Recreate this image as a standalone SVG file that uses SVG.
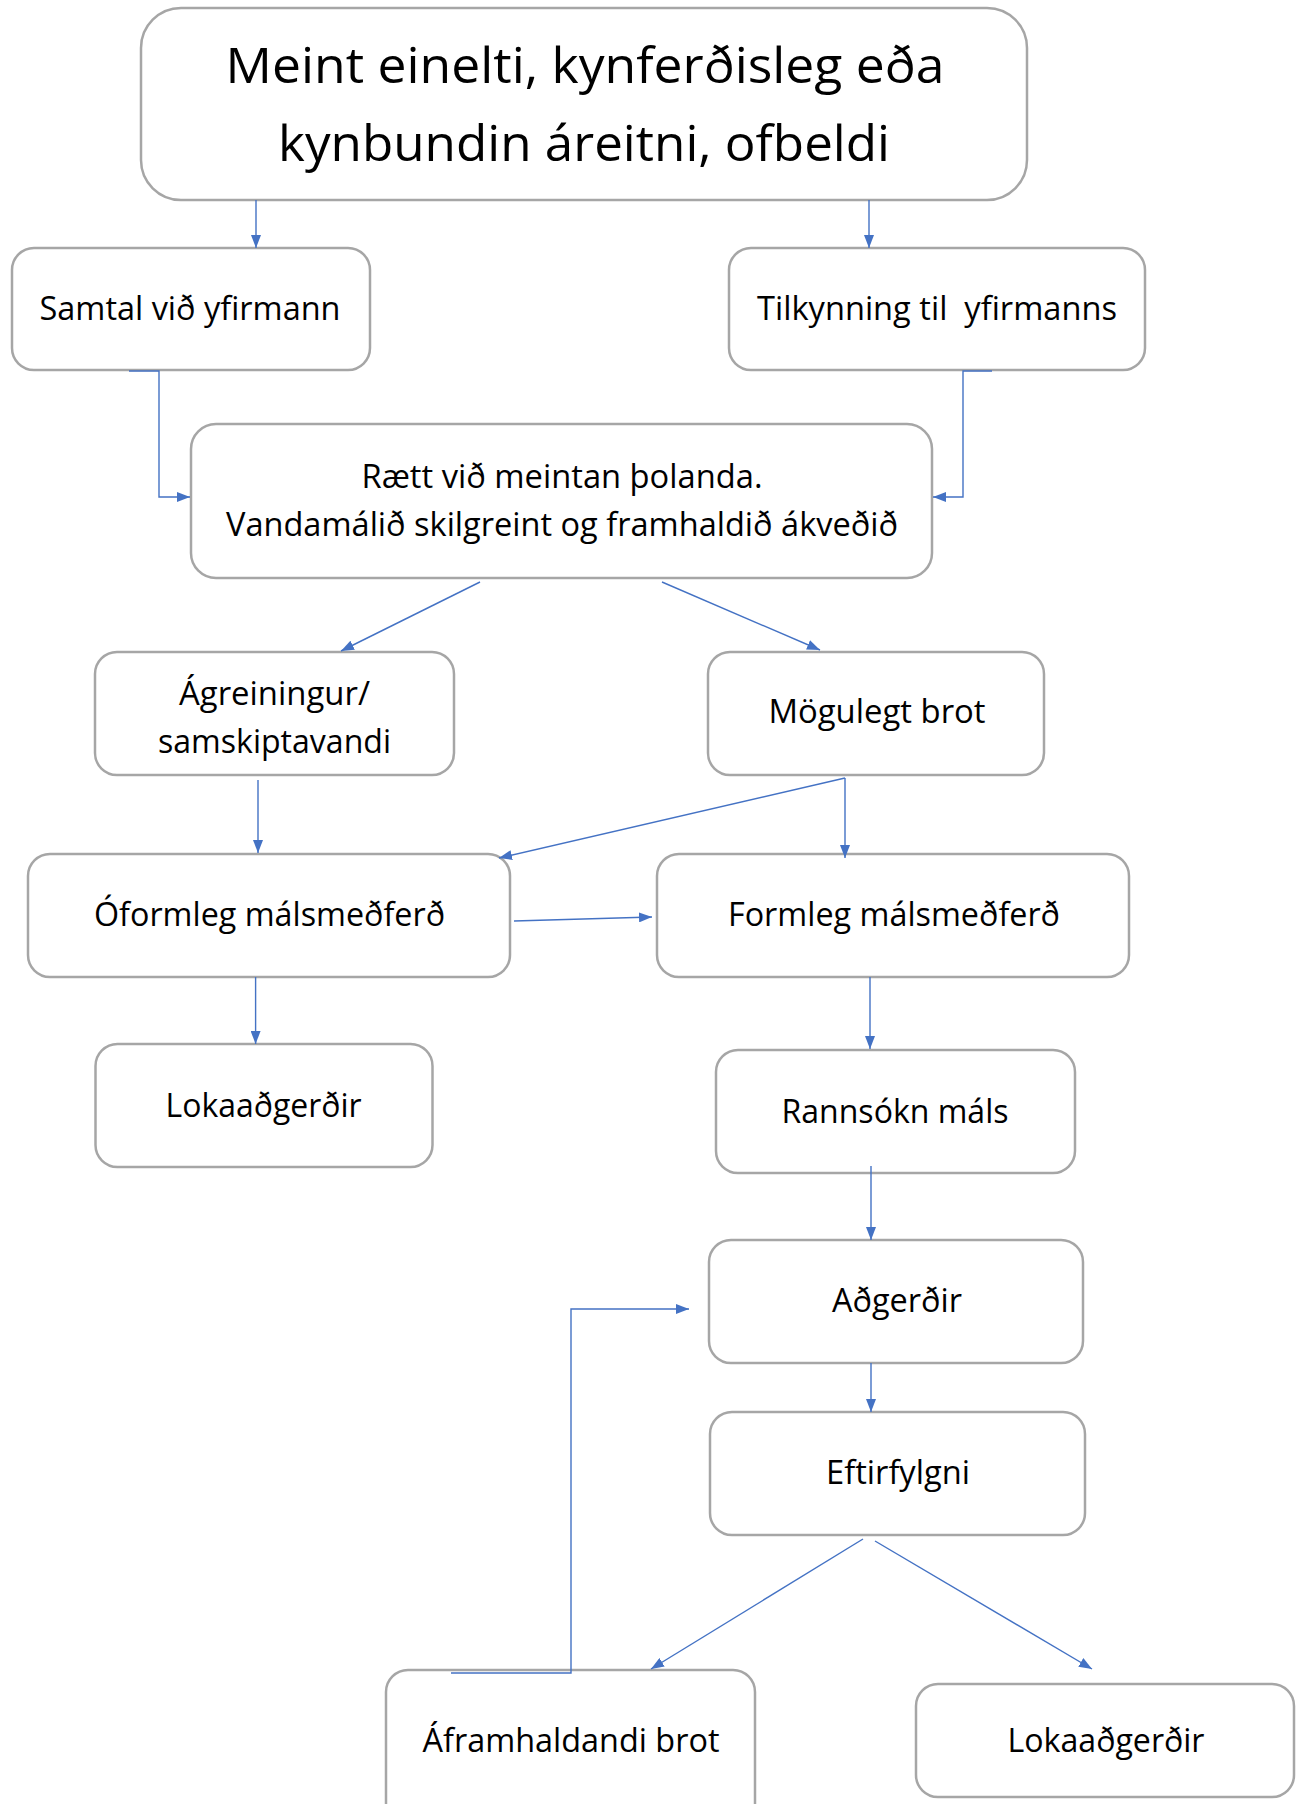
<svg xmlns="http://www.w3.org/2000/svg" width="1304" height="1804" viewBox="0 0 1304 1804">
<defs>
<marker id="ah" viewBox="0 0 13 10" refX="13" refY="5" markerWidth="13" markerHeight="10" markerUnits="userSpaceOnUse" orient="auto">
<path d="M0,0 L13,5 L0,10 z" fill="#4472C4"/>
</marker>
<style>
.box{fill:#fff;stroke:#A6A6A6;stroke-width:2.5}
.t{font-family:"Open Sans","Liberation Sans",sans-serif;font-size:32px;fill:#000;text-anchor:middle}
.big{font-size:49px}
.c{fill:none;stroke:#4472C4;stroke-width:1.4}
</style>
</defs>
<rect width="1304" height="1804" fill="#fff"/>
<g id="n-top">
<rect class="box" x="141" y="8" width="886" height="192" rx="40"/>
<text class="t big" x="585" y="83" textLength="719" lengthAdjust="spacingAndGlyphs">Meint einelti, kynferðisleg eða</text>
<text class="t big" x="584" y="161" textLength="612" lengthAdjust="spacingAndGlyphs">kynbundin áreitni, ofbeldi</text>
</g>
<g id="n-samtal">
<rect class="box" x="12" y="248" width="358" height="122" rx="22"/>
<text class="t" x="190" y="320" textLength="301" lengthAdjust="spacingAndGlyphs">Samtal við yfirmann</text>
</g>
<g id="n-tilkynning">
<rect class="box" x="729" y="248" width="416" height="122" rx="22"/>
<text class="t" x="937" y="320" textLength="360" lengthAdjust="spacingAndGlyphs" xml:space="preserve">Tilkynning til  yfirmanns</text>
</g>
<g id="n-raett">
<rect class="box" x="191" y="424" width="741" height="154" rx="25"/>
<text class="t" x="562" y="488" textLength="401" lengthAdjust="spacingAndGlyphs">Rætt við meintan þolanda.</text>
<text class="t" x="562" y="536" textLength="672" lengthAdjust="spacingAndGlyphs">Vandamálið skilgreint og framhaldið ákveðið</text>
</g>
<g id="n-agreiningur">
<rect class="box" x="95" y="652" width="359" height="123" rx="22"/>
<text class="t" x="274.5" y="705" textLength="191" lengthAdjust="spacingAndGlyphs">Ágreiningur/</text>
<text class="t" x="274.5" y="753" textLength="233" lengthAdjust="spacingAndGlyphs">samskiptavandi</text>
</g>
<g id="n-mogulegt">
<rect class="box" x="708" y="652" width="336" height="123" rx="22"/>
<text class="t" x="877" y="723" textLength="217" lengthAdjust="spacingAndGlyphs">Mögulegt brot</text>
</g>
<g id="n-oformleg">
<rect class="box" x="28" y="854" width="482" height="123" rx="22"/>
<text class="t" x="269.5" y="926" textLength="351" lengthAdjust="spacingAndGlyphs">Óformleg málsmeðferð</text>
</g>
<g id="n-formleg">
<rect class="box" x="657" y="854" width="472" height="123" rx="22"/>
<text class="t" x="894" y="926" textLength="332" lengthAdjust="spacingAndGlyphs">Formleg málsmeðferð</text>
</g>
<g id="n-loka1">
<rect class="box" x="95.5" y="1044" width="337" height="123" rx="22"/>
<text class="t" x="263.6" y="1117" textLength="196" lengthAdjust="spacingAndGlyphs">Lokaaðgerðir</text>
</g>
<g id="n-rannsokn">
<rect class="box" x="716" y="1050" width="359" height="123" rx="22"/>
<text class="t" x="895" y="1123" textLength="227" lengthAdjust="spacingAndGlyphs">Rannsókn máls</text>
</g>
<g id="n-adgerdir">
<rect class="box" x="709" y="1240" width="374" height="123" rx="22"/>
<text class="t" x="897" y="1312" textLength="130" lengthAdjust="spacingAndGlyphs">Aðgerðir</text>
</g>
<g id="n-eftirfylgni">
<rect class="box" x="710" y="1412" width="375" height="123" rx="22"/>
<text class="t" x="898" y="1484" textLength="144" lengthAdjust="spacingAndGlyphs">Eftirfylgni</text>
</g>
<g id="n-aframhaldandi">
<rect class="box" x="386" y="1670" width="369" height="170" rx="22"/>
<text class="t" x="571" y="1752" textLength="297" lengthAdjust="spacingAndGlyphs">Áframhaldandi brot</text>
</g>
<g id="n-loka2">
<rect class="box" x="916" y="1684" width="378" height="113" rx="22"/>
<text class="t" x="1106" y="1752" textLength="197" lengthAdjust="spacingAndGlyphs">Lokaaðgerðir</text>
</g>
<g id="connectors">
<path class="c" d="M256,200 V248" marker-end="url(#ah)"/>
<path class="c" d="M869,200 V248" marker-end="url(#ah)"/>
<path class="c" d="M129,371 H159 V497 H190" marker-end="url(#ah)"/>
<path class="c" d="M992,371 H963 V497 H933" marker-end="url(#ah)"/>
<path class="c" d="M480,582 L341,651" marker-end="url(#ah)"/>
<path class="c" d="M662,582 L820,650" marker-end="url(#ah)"/>
<path class="c" d="M258,780 V853" marker-end="url(#ah)"/>
<path class="c" d="M845,778 L499,858" marker-end="url(#ah)"/>
<path class="c" d="M845,778 V858" marker-end="url(#ah)"/>
<path class="c" d="M514,921 L652,917" marker-end="url(#ah)"/>
<path class="c" d="M255.6,977 V1044" marker-end="url(#ah)"/>
<path class="c" d="M870,977 V1049" marker-end="url(#ah)"/>
<path class="c" d="M871,1166 V1240" marker-end="url(#ah)"/>
<path class="c" d="M451,1673 H571 V1309 H689" marker-end="url(#ah)"/>
<path class="c" d="M871,1363 V1412" marker-end="url(#ah)"/>
<path class="c" d="M863,1539 L651,1669" marker-end="url(#ah)"/>
<path class="c" d="M875,1541 L1092,1669" marker-end="url(#ah)"/>
</g>
</svg>
